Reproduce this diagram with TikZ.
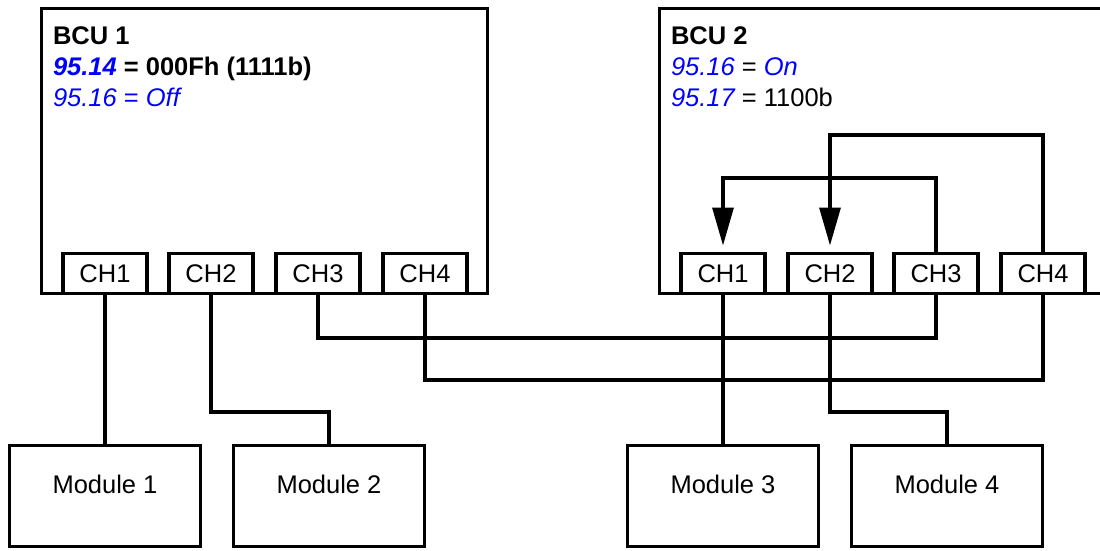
\documentclass[tikz,border=0pt]{standalone}
\usepackage{fontspec}
\setmainfont{Liberation Sans}
\usetikzlibrary{arrows.meta}
\definecolor{pblue}{RGB}{0,0,255}
\begin{document}
\begin{tikzpicture}[x=1pt,y=-1pt,
  every node/.style={font=\fontsize{25.5}{30.5}\selectfont, outer sep=0pt},
  unit/.style={draw, line width=3.2pt, anchor=north west, inner sep=0pt},
  chbox/.style={draw, fill=white, line width=3.2pt, minimum width=84pt, minimum height=40pt, inner sep=0pt},
  modbox/.style={draw, line width=3.2pt, minimum width=191pt, minimum height=101pt, inner sep=0pt, text height=18pt, text depth=24pt},
  txt/.style={anchor=base west, inner sep=0pt},
  wire/.style={line width=3.2pt},
  arr/.style={wire, -{Triangle[width=21pt,length=38pt]}, shorten >=8pt},
]
\clip (0,0) rectangle (1100,551);
% units
\node[unit, minimum width=446pt, minimum height=285pt] (bcu1) at (41.5,8.5) {};
\node[unit, minimum width=480pt, minimum height=285pt] (bcu2) at (659.5,8.5) {};
% channels BCU1
\node[chbox] (a1) at (105,273.5) {CH1};
\node[chbox] (a2) at (211,273.5) {CH2};
\node[chbox] (a3) at (318,273.5) {CH3};
\node[chbox] (a4) at (425,273.5) {CH4};
% channels BCU2
\node[chbox] (b1) at (723,273.5) {CH1};
\node[chbox] (b2) at (830,273.5) {CH2};
\node[chbox] (b3) at (936,273.5) {CH3};
\node[chbox] (b4) at (1043,273.5) {CH4};
% texts
\node[txt] (t1a) at (53,45) {\bfseries BCU 1};
\node[txt] (t1b) at (53,75) {\bfseries\textcolor{pblue}{\itshape 95.14} = 000Fh (1111b)};
\node[txt] (t1c) at (53,106) {\color{pblue}\itshape 95.16 \upshape= \itshape Off};
\node[txt] (t2a) at (671,45) {\bfseries BCU 2};
\node[txt] (t2b) at (671,75) {\textcolor{pblue}{\itshape 95.16} = \textcolor{pblue}{\itshape On}};
\node[txt] (t2c) at (671,106) {\textcolor{pblue}{\itshape 95.17} = 1100b};
% modules
\node[modbox] (m1) at (105,496) {Module 1};
\node[modbox] (m2) at (329,496) {Module 2};
\node[modbox] (m3) at (723,496) {Module 3};
\node[modbox] (m4) at (947,496) {Module 4};
% internal redirections in BCU2
\draw[arr] (b3.north) -- (b3.north |- 0,178) -- (b1.north |- 0,178) -- (b1.north);
\draw[arr] (b4.north) -- (b4.north |- 0,135) -- (b2.north |- 0,135) -- (b2.north);
% wiring
\draw[wire] (a1.south) -- (m1.north);
\draw[wire] (a2.south) -- (a2.south |- 0,412) -| (m2.north);
\draw[wire] (a3.south) -- (a3.south |- 0,338) -| (b3.south);
\draw[wire] (a4.south) -- (a4.south |- 0,380) -| (b4.south);
\draw[wire] (b1.south) -- (m3.north);
\draw[wire] (b2.south) -- (b2.south |- 0,412) -| (m4.north);
\end{tikzpicture}
\end{document}
